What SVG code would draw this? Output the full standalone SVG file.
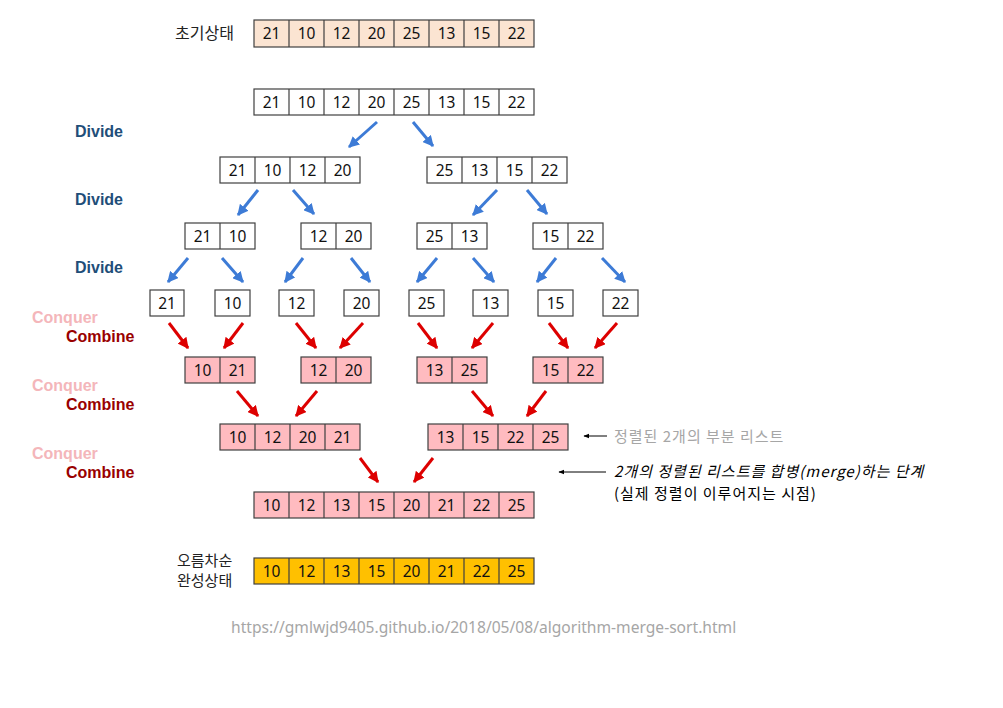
<svg xmlns="http://www.w3.org/2000/svg" width="1003" height="708" viewBox="0 0 1003 708">
<defs>
<marker id="hb" viewBox="0 0 10 10" refX="9" refY="5" markerWidth="11" markerHeight="11" markerUnits="userSpaceOnUse" orient="auto"><path d="M0,0 L10,5 L0,10 z" fill="#3D7BD6"/></marker>
<marker id="hr" viewBox="0 0 10 10" refX="9" refY="5" markerWidth="11" markerHeight="11" markerUnits="userSpaceOnUse" orient="auto"><path d="M0,0 L10,5 L0,10 z" fill="#DD0000"/></marker>
<marker id="hs" viewBox="0 0 10 10" refX="9" refY="5" markerWidth="6" markerHeight="6" markerUnits="userSpaceOnUse" orient="auto"><path d="M0,1 L10,5 L0,9 z" fill="#000"/></marker>
</defs>
<style>
.c{stroke:#404040;stroke-width:1.2}
.w{fill:#fff}
.p{fill:#FFBBC0}
.o{fill:#FBE4D2}
.g{fill:#FFC000}
.d{stroke:#404040;stroke-width:1.2}
.n{font-family:"Noto Sans","Open Sans",sans-serif;font-size:15.5px;fill:#111;text-anchor:middle}
.k{font-family:"Noto Sans CJK KR","Noto Sans",sans-serif;font-size:16px;fill:#222}
.dv{font-family:"Liberation Sans",Arial,sans-serif;font-weight:bold;font-size:16px;fill:#1F4E79}
.cq{font-family:"Liberation Sans",Arial,sans-serif;font-weight:bold;font-size:16px;fill:#F4B6BA}
.cb{font-family:"Liberation Sans",Arial,sans-serif;font-weight:bold;font-size:16px;fill:#990000}
.ab{stroke:#3D7BD6;stroke-width:3;fill:none;marker-end:url(#hb)}
.ar{stroke:#DD0000;stroke-width:3;fill:none;marker-end:url(#hr)}
.an{font-family:"Noto Sans CJK KR",sans-serif;font-size:15px;letter-spacing:1px}
</style>
<rect width="1003" height="708" fill="#fff"/>

<g id="labels">
<text class="k" x="175" y="39">초기상태</text>
<text class="dv" x="75" y="137">Divide</text>
<text class="dv" x="75" y="205">Divide</text>
<text class="dv" x="75" y="273">Divide</text>
<text class="cq" x="32" y="323">Conquer</text>
<text class="cb" x="66" y="342">Combine</text>
<text class="cq" x="32" y="391">Conquer</text>
<text class="cb" x="66" y="410">Combine</text>
<text class="cq" x="32" y="459">Conquer</text>
<text class="cb" x="66" y="478">Combine</text>
<text class="k" x="177" y="566" style="font-size:15px">오름차순</text>
<text class="k" x="177" y="586" style="font-size:15px">완성상태</text>
<text x="231" y="633" style="font-family:'Noto Sans',sans-serif;font-size:15.6px;fill:#A6A6A6">https://gmlwjd9405.github.io/2018/05/08/algorithm-merge-sort.html</text>
</g>

<g id="row0">
<rect class="c o" x="254" y="20" width="280" height="27"/>
<path class="d" d="M289,20V47M324,20V47M359,20V47M394,20V47M429,20V47M464,20V47M499,20V47"/>
<text class="n" x="271.5" y="39">21</text><text class="n" x="306.5" y="39">10</text><text class="n" x="341.5" y="39">12</text><text class="n" x="376.5" y="39">20</text><text class="n" x="411.5" y="39">25</text><text class="n" x="446.5" y="39">13</text><text class="n" x="481.5" y="39">15</text><text class="n" x="516.5" y="39">22</text>
</g>

<g id="row1">
<rect class="c w" x="254" y="89" width="280" height="26"/>
<path class="d" d="M289,89V115M324,89V115M359,89V115M394,89V115M429,89V115M464,89V115M499,89V115"/>
<text class="n" x="271.5" y="107.5">21</text><text class="n" x="306.5" y="107.5">10</text><text class="n" x="341.5" y="107.5">12</text><text class="n" x="376.5" y="107.5">20</text><text class="n" x="411.5" y="107.5">25</text><text class="n" x="446.5" y="107.5">13</text><text class="n" x="481.5" y="107.5">15</text><text class="n" x="516.5" y="107.5">22</text>
</g>

<g id="row2L">
<rect class="c w" x="220" y="157" width="140" height="26"/>
<path class="d" d="M255,157V183M290,157V183M325,157V183"/>
<text class="n" x="237.5" y="175.5">21</text><text class="n" x="272.5" y="175.5">10</text><text class="n" x="307.5" y="175.5">12</text><text class="n" x="342.5" y="175.5">20</text>
</g>
<g id="row2R">
<rect class="c w" x="427" y="157" width="140" height="26"/>
<path class="d" d="M462,157V183M497,157V183M532,157V183"/>
<text class="n" x="444.5" y="175.5">25</text><text class="n" x="479.5" y="175.5">13</text><text class="n" x="514.5" y="175.5">15</text><text class="n" x="549.5" y="175.5">22</text>
</g>

<g id="row3a"><rect class="c w" x="185" y="223" width="70" height="26"/><path class="d" d="M220,223V249"/><text class="n" x="202.5" y="241.5">21</text><text class="n" x="237.5" y="241.5">10</text></g>
<g id="row3b"><rect class="c w" x="301" y="223" width="70" height="26"/><path class="d" d="M336,223V249"/><text class="n" x="318.5" y="241.5">12</text><text class="n" x="353.5" y="241.5">20</text></g>
<g id="row3c"><rect class="c w" x="417" y="223" width="70" height="26"/><path class="d" d="M452,223V249"/><text class="n" x="434.5" y="241.5">25</text><text class="n" x="469.5" y="241.5">13</text></g>
<g id="row3d"><rect class="c w" x="533" y="223" width="70" height="26"/><path class="d" d="M568,223V249"/><text class="n" x="550.5" y="241.5">15</text><text class="n" x="585.5" y="241.5">22</text></g>

<g id="row4a"><rect class="c w" x="150" y="290" width="34" height="26"/><text class="n" x="167" y="308.5">21</text></g>
<g id="row4b"><rect class="c w" x="215" y="290" width="35" height="26"/><text class="n" x="232.5" y="308.5">10</text></g>
<g id="row4c"><rect class="c w" x="279" y="290" width="35" height="26"/><text class="n" x="296.5" y="308.5">12</text></g>
<g id="row4d"><rect class="c w" x="344" y="290" width="35" height="26"/><text class="n" x="361.5" y="308.5">20</text></g>
<g id="row4e"><rect class="c w" x="409" y="290" width="35" height="26"/><text class="n" x="426.5" y="308.5">25</text></g>
<g id="row4f"><rect class="c w" x="473" y="290" width="35" height="26"/><text class="n" x="490.5" y="308.5">13</text></g>
<g id="row4g"><rect class="c w" x="538" y="290" width="35" height="26"/><text class="n" x="555.5" y="308.5">15</text></g>
<g id="row4h"><rect class="c w" x="603" y="290" width="35" height="26"/><text class="n" x="620.5" y="308.5">22</text></g>

<g id="row5a"><rect class="c p" x="185" y="357" width="70" height="26"/><path class="d" d="M220,357V383"/><text class="n" x="202.5" y="375.5">10</text><text class="n" x="237.5" y="375.5">21</text></g>
<g id="row5b"><rect class="c p" x="301" y="357" width="70" height="26"/><path class="d" d="M336,357V383"/><text class="n" x="318.5" y="375.5">12</text><text class="n" x="353.5" y="375.5">20</text></g>
<g id="row5c"><rect class="c p" x="417" y="357" width="70" height="26"/><path class="d" d="M452,357V383"/><text class="n" x="434.5" y="375.5">13</text><text class="n" x="469.5" y="375.5">25</text></g>
<g id="row5d"><rect class="c p" x="533" y="357" width="70" height="26"/><path class="d" d="M568,357V383"/><text class="n" x="550.5" y="375.5">15</text><text class="n" x="585.5" y="375.5">22</text></g>

<g id="row6L">
<rect class="c p" x="220" y="424" width="140" height="26"/>
<path class="d" d="M255,424V450M290,424V450M325,424V450"/>
<text class="n" x="237.5" y="442.5">10</text><text class="n" x="272.5" y="442.5">12</text><text class="n" x="307.5" y="442.5">20</text><text class="n" x="342.5" y="442.5">21</text>
</g>
<g id="row6R">
<rect class="c p" x="428" y="424" width="140" height="26"/>
<path class="d" d="M463,424V450M498,424V450M533,424V450"/>
<text class="n" x="445.5" y="442.5">13</text><text class="n" x="480.5" y="442.5">15</text><text class="n" x="515.5" y="442.5">22</text><text class="n" x="550.5" y="442.5">25</text>
</g>

<g id="row7">
<rect class="c p" x="254" y="492" width="280" height="26"/>
<path class="d" d="M289,492V518M324,492V518M359,492V518M394,492V518M429,492V518M464,492V518M499,492V518"/>
<text class="n" x="271.5" y="510.5">10</text><text class="n" x="306.5" y="510.5">12</text><text class="n" x="341.5" y="510.5">13</text><text class="n" x="376.5" y="510.5">15</text><text class="n" x="411.5" y="510.5">20</text><text class="n" x="446.5" y="510.5">21</text><text class="n" x="481.5" y="510.5">22</text><text class="n" x="516.5" y="510.5">25</text>
</g>

<g id="final">
<rect class="c g" x="254" y="558" width="280" height="26"/>
<path class="d" d="M289,558V584M324,558V584M359,558V584M394,558V584M429,558V584M464,558V584M499,558V584"/>
<text class="n" x="271.5" y="576.5">10</text><text class="n" x="306.5" y="576.5">12</text><text class="n" x="341.5" y="576.5">13</text><text class="n" x="376.5" y="576.5">15</text><text class="n" x="411.5" y="576.5">20</text><text class="n" x="446.5" y="576.5">21</text><text class="n" x="481.5" y="576.5">22</text><text class="n" x="516.5" y="576.5">25</text>
</g>

<g id="notes">
<text class="an" x="614" y="442" style="fill:#A6A6A6">정렬된 2개의 부분 리스트</text>
<text class="an" x="614" y="477" style="font-style:italic;fill:#000">2개의 정렬된 리스트를 합병(merge)하는 단계</text>
<text class="an" x="614" y="499" style="fill:#000">(실제 정렬이 이루어지는 시점)</text>
</g>

<g id="connectors">
<path class="ab" d="M377,122L349,147"/>
<path class="ab" d="M413,122L433,146"/>
<path class="ab" d="M258,190L238,215"/>
<path class="ab" d="M293,190L314,214"/>
<path class="ab" d="M497,190L473,215"/>
<path class="ab" d="M527,190L547,214"/>
<path class="ab" d="M188,258L168,282"/>
<path class="ab" d="M222,258L243,282"/>
<path class="ab" d="M303,258L285,282"/>
<path class="ab" d="M351,258L370,282"/>
<path class="ab" d="M437,258L417,282"/>
<path class="ab" d="M473,258L494,282"/>
<path class="ab" d="M556,258L537,282"/>
<path class="ab" d="M602,258L625,282"/>
<path class="ar" d="M169,323L188,348"/>
<path class="ar" d="M243,323L224,348"/>
<path class="ar" d="M296,323L316,348"/>
<path class="ar" d="M363,323L340,348"/>
<path class="ar" d="M418,323L437,348"/>
<path class="ar" d="M493,323L472,348"/>
<path class="ar" d="M549,323L568,348"/>
<path class="ar" d="M617,323L595,348"/>
<path class="ar" d="M237,391L258,416"/>
<path class="ar" d="M317,391L296,416"/>
<path class="ar" d="M472,391L493,416"/>
<path class="ar" d="M546,391L527,416"/>
<path class="ar" d="M360,458L378,482"/>
<path class="ar" d="M433,458L414,482"/>
<path d="M607,436H584" stroke="#000" stroke-width="1" marker-end="url(#hs)"/>
<path d="M606,472H559" stroke="#000" stroke-width="1" marker-end="url(#hs)"/>
</g>
</svg>
